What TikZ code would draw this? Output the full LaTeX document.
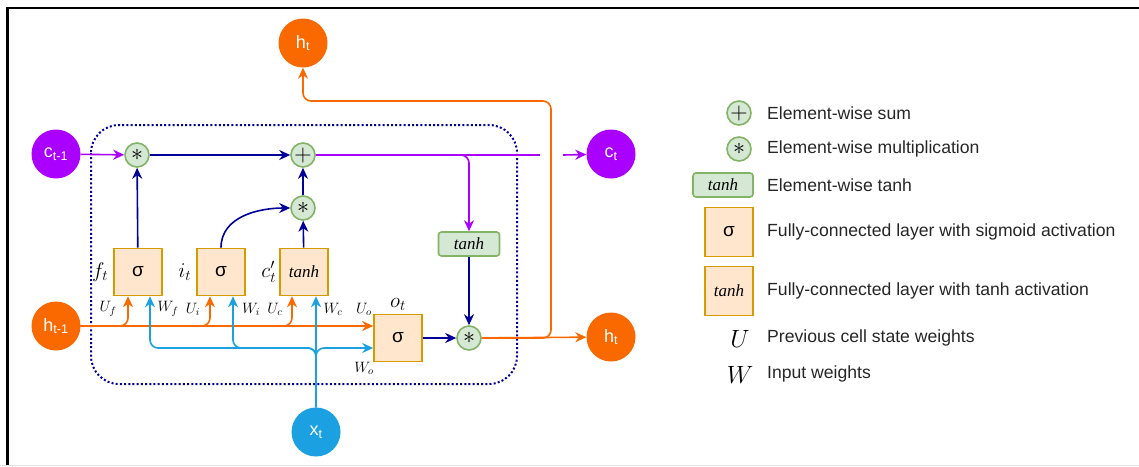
\documentclass[tikz,border=0pt]{standalone}
\usepackage{fix-cm}
\usepackage{fontspec}
\setmainfont{Liberation Sans}
\newfontfamily\tanhfont{Liberation Serif}
\usetikzlibrary{arrows.meta, positioning}

\definecolor{cellpurple}{HTML}{AA00FF}
\definecolor{hidorange}{HTML}{FA6800}
\definecolor{inblue}{HTML}{1BA1E2}
\definecolor{flownavy}{HTML}{000099}
\definecolor{opfill}{HTML}{D5E8D4}
\definecolor{opdraw}{HTML}{82B366}
\definecolor{gatefill}{HTML}{FFE6CC}
\definecolor{gatedraw}{HTML}{D79B00}
\definecolor{legendtext}{HTML}{262626}

\begin{document}
\begin{tikzpicture}[
        x=1pt, y=-1pt,
        >={Stealth[length=11pt,width=10pt]},
        font=\fontsize{18}{21}\selectfont,
        statenode/.style={circle, minimum size=49pt, inner sep=0pt, text=white},
        op/.style={circle, draw=opdraw, fill=opfill, line width=1.6pt,
                   minimum size=24pt, inner sep=0pt, font=\fontsize{24}{24}\selectfont},
        gate/.style={rectangle, draw=gatedraw, fill=gatefill, line width=1.6pt,
                     minimum width=48pt, minimum height=47pt, inner sep=0pt,
                     font=\fontsize{19}{19}\selectfont},
        tanhgate/.style={gate, font=\tanhfont\itshape\fontsize{17}{17}\selectfont},
        act/.style={rectangle, rounded corners=3pt, draw=opdraw, fill=opfill, line width=1.6pt,
                    minimum width=61pt, minimum height=24pt, inner sep=0pt,
                    font=\tanhfont\itshape\fontsize{17}{17}\selectfont},
        lab/.style={inner sep=0pt, font=\fontsize{21}{21}\selectfont},
        wlab/.style={inner sep=0pt, font=\fontsize{15}{15}\selectfont},
        legtxt/.style={anchor=west, inner sep=0pt, text=legendtext, font=\fontsize{17.6}{20}\selectfont},
        cellbox/.style={draw=flownavy, line width=2pt, dash pattern=on 2pt off 2.2pt, rounded corners=28pt},
        navyarr/.style={->, draw=flownavy, line width=1.6pt},
        purplearr/.style={->, draw=cellpurple, line width=1.6pt, rounded corners=8pt},
        orangearr/.style={->, draw=hidorange, line width=1.6pt, rounded corners=8pt},
        bluearr/.style={->, draw=inblue, line width=1.6pt, rounded corners=8pt}
    ]
    \useasboundingbox (0,0) rectangle (1139,466);

    % frame
    \draw[black, line width=2.5pt] (7.5,466) -- (7.5,8) -- (1139,8);
    \draw[black!12, line width=1pt] (0,465) -- (1139,465);

    % LSTM cell outline
    \draw[cellbox] (91,125) rectangle (517,384);

    % states
    \node[statenode, fill=cellpurple] (cprev) at (56,154)  {c\textsubscript{t-1}};
    \node[statenode, fill=hidorange]  (hprev) at (56,326)  {h\textsubscript{t-1}};
    \node[statenode, fill=hidorange]  (htop)  at (303,43)  {h\textsubscript{t}};
    \node[statenode, fill=cellpurple] (cnext) at (611,154) {c\textsubscript{t}};
    \node[statenode, fill=hidorange]  (hout)  at (611,337) {h\textsubscript{t}};
    \node[statenode, fill=inblue]     (xin)   at (316,432) {x\textsubscript{t}};

    % element-wise operations
    \node[op]  (mulf)  at (137,155) {$\ast$};
    \node[op]  (add)   at (303,155) {$+$};
    \node[op]  (muli)  at (303,208) {$\ast$};
    \node[op]  (mulo)  at (469,338) {$\ast$};
    \node[act] (tanhc) at (469,244) {tanh};

    % gates
    \node[gate]     (fgate) at (138,272) {σ};
    \node[gate]     (igate) at (221,272) {σ};
    \node[tanhgate] (cgate) at (304,272) {tanh};
    \node[gate]     (ogate) at (398,338) {σ};

    \node[lab, left=5pt of fgate]  {$f_t$};
    \node[lab, left=5pt of igate]  {$i_t$};
    \node[lab, left=3pt of cgate]  {$c'_t$};
    \node[lab, above=3pt of ogate] {$o_t$};

    % weights
    \node[wlab] at (108,309) {$U_f$};
    \node[wlab] at (168,309) {$W_f$};
    \node[wlab] at (193,309) {$U_i$};
    \node[wlab] at (251,309) {$W_i$};
    \node[wlab] at (275,309) {$U_c$};
    \node[wlab] at (333,309) {$W_c$};
    \node[wlab] at (364,309) {$U_o$};
    \node[wlab] at (364,368) {$W_o$};

    % cell state path
    \coordinate (jumpa) at (540,155);
    \coordinate (jumpb) at (563,155);
    \draw[purplearr] (cprev) -- (mulf);
    \draw[navyarr] (mulf) -- (add);
    \draw[purplearr, -] (add) -- (jumpa);
    \draw[purplearr] (jumpb) -- (cnext);
    \draw[purplearr] (add) -| (tanhc);

    % gates into operations
    \draw[navyarr] (fgate) -- (mulf);
    \draw[navyarr] (igate.north) to[out=90, in=180] (muli.west);
    \draw[navyarr] (cgate) -- (muli);
    \draw[navyarr] (muli) -- (add);
    \draw[navyarr] (tanhc) -- (mulo);
    \draw[navyarr] (ogate) -- (mulo);

    % hidden state out
    \coordinate (hbend) at (551,101);
    \draw[orangearr] (mulo) -- (hout);
    \draw[orangearr] (mulo.east) -| (hbend) -| (htop.south);

    % previous hidden state
    \draw[orangearr] (hprev) -- ([yshift=12pt]ogate.west);
    \draw[orangearr] (hprev.east) -| ([xshift=-10pt]fgate.south);
    \draw[orangearr] (hprev.east) -| ([xshift=-11pt]igate.south);
    \draw[orangearr] (hprev.east) -| ([xshift=-12pt]cgate.south);

    % input
    \coordinate (xsplit) at (316,348);
    \draw[bluearr] (xin.north) -- (xsplit) -| ([xshift=12pt]fgate.south);
    \draw[bluearr] (xin.north) -- (xsplit) -| ([xshift=12pt]igate.south);
    \draw[bluearr] (xin.north) -- ([xshift=12pt]cgate.south);
    \draw[bluearr] (xin.north) -- (xsplit) -- ([yshift=-10pt]ogate.west);

    % legend
    \node[op]       (lgadd)  at (739,113) {$+$};
    \node[op]       (lgmul)  at (739,149) {$\ast$};
    \node[act, minimum width=60pt] (lgtanh) at (723,185) {tanh};
    \node[gate, minimum height=49pt] (lgsig) at (729,232) {σ};
    \node[tanhgate, minimum height=49pt] (lgfc) at (729,291) {tanh};
    \node[inner sep=0pt, font=\fontsize{25}{25}\selectfont] (lgU) at (740,339) {$U$};
    \node[inner sep=0pt, font=\fontsize{25}{25}\selectfont] (lgW) at (740,375) {$W$};

    \node[legtxt] at (767,113) {Element-wise sum};
    \node[legtxt] at (767,149) {Element-wise multiplication};
    \node[legtxt] at (767,185) {Element-wise tanh};
    \node[legtxt] at (767,232) {Fully-connected layer with sigmoid activation};
    \node[legtxt] at (767,291) {Fully-connected layer with tanh activation};
    \node[legtxt] at (767,338) {Previous cell state weights};
    \node[legtxt] at (767,374) {Input weights};

\end{tikzpicture}
\end{document}
